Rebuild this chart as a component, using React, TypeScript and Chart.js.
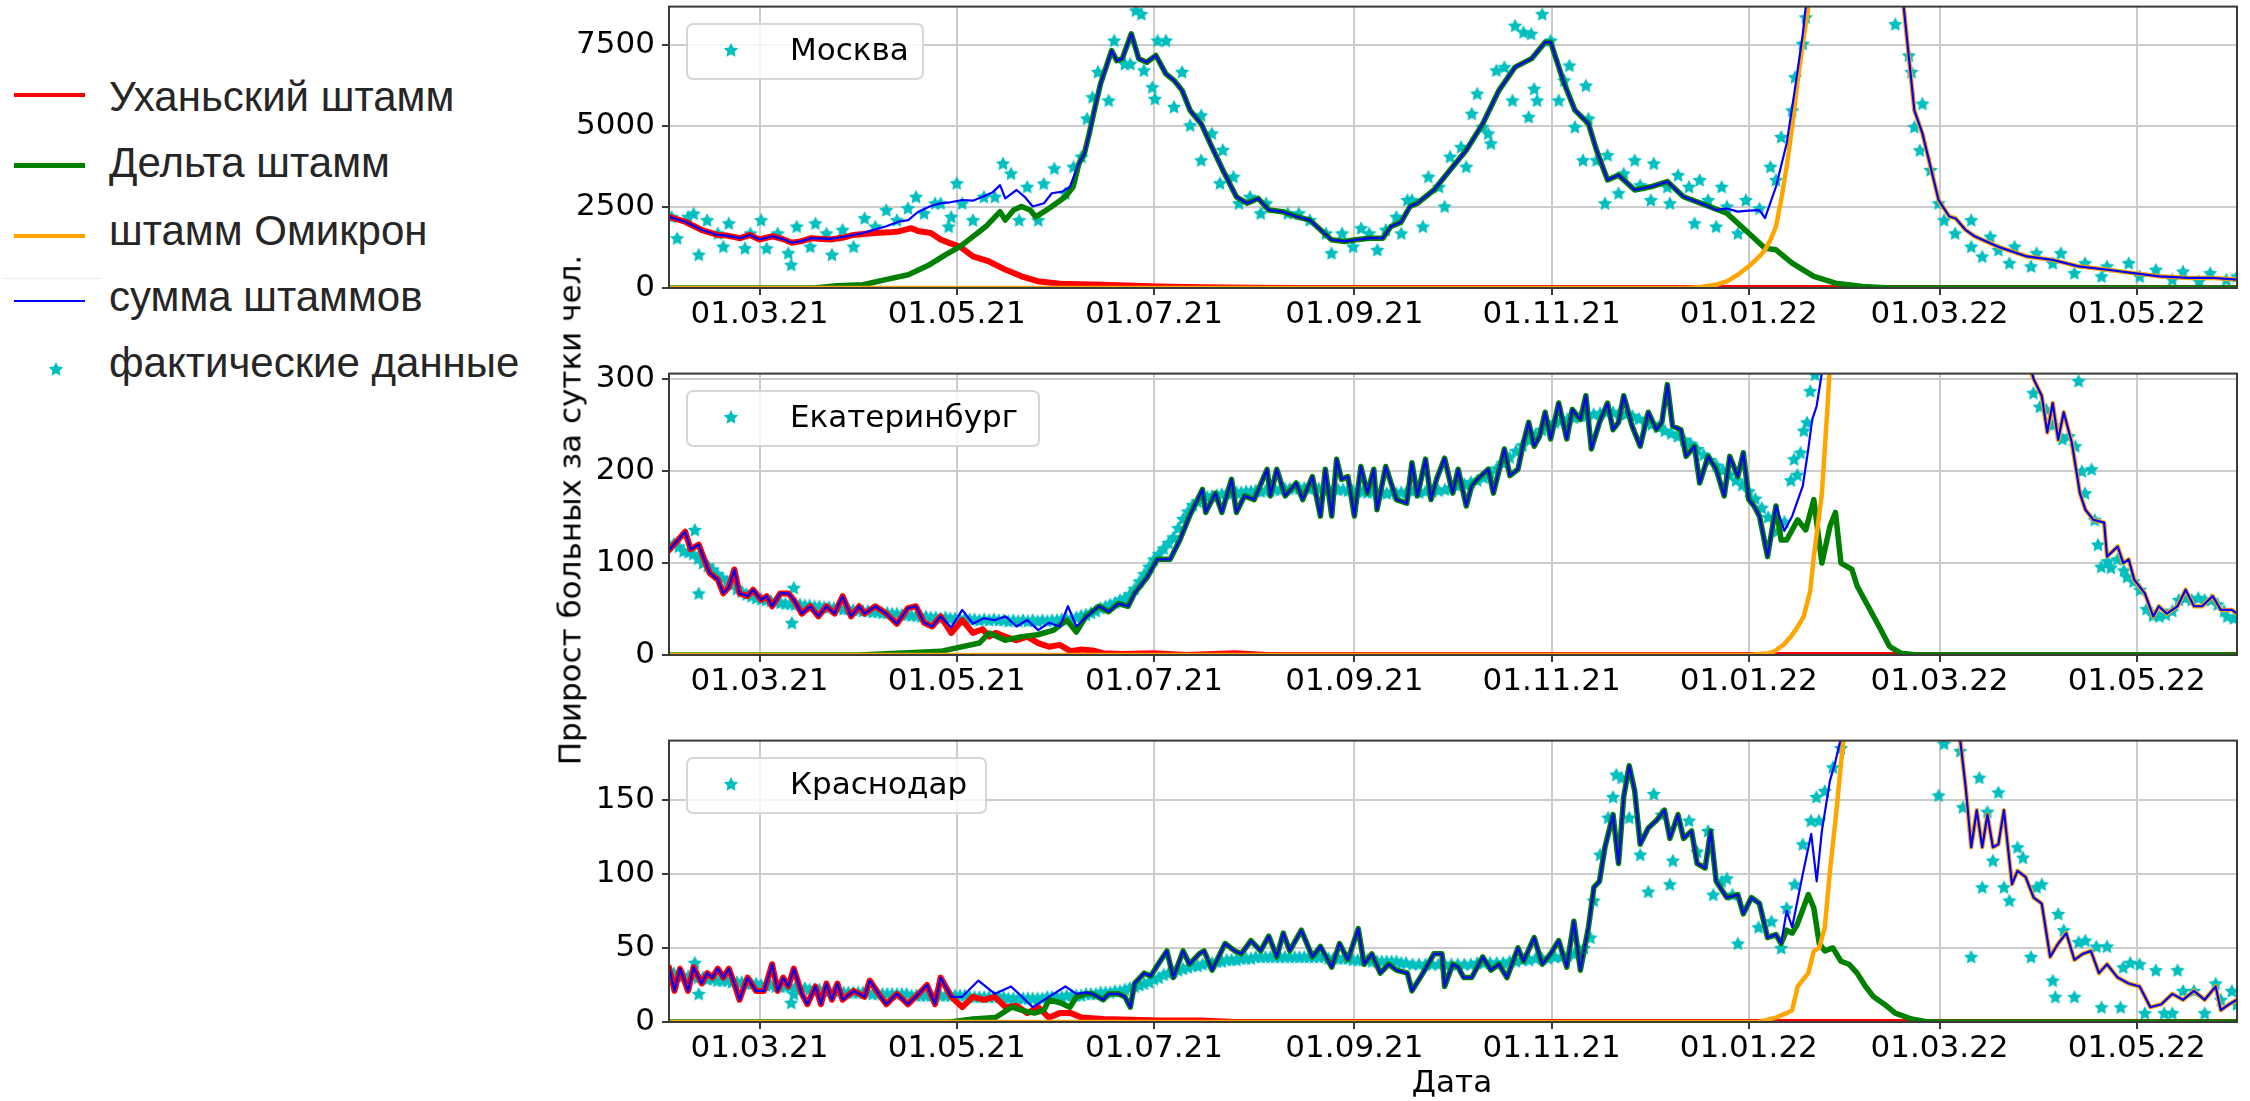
import React, { useEffect, useRef } from "react";
import { Chart, registerables } from "chart.js";

Chart.register(...registerables);

type Pt = [number, number];

// ---------- axes / labels ----------
const X_TICKS = [28, 89, 150, 212, 273, 334, 393, 454];
const X_TICK_LABELS = ["01.03.21", "01.05.21", "01.07.21", "01.09.21", "01.11.21", "01.01.22", "01.03.22", "01.05.22"];
const X_MIN = 0;
const X_MAX = 485;

const MSK_Y_TICKS = [0, 2500, 5000, 7500];
const EKB_Y_TICKS = [0, 100, 200, 300];
const KRD_Y_TICKS = [0, 50, 100, 150];
const MSK_Y_MAX = 8700;
const EKB_Y_MAX = 306;
const KRD_Y_MAX = 190;

const SERIES_LABELS = ["Уханьский штамм", "Дельта штамм", "штамм Омикрон", "сумма штаммов", "фактические данные"];
const CITY_NAMES = ["Москва", "Екатеринбург", "Краснодар"];
const Y_AXIS_TITLE = "Прирост больных за сутки чел.";
const X_AXIS_TITLE = "Дата";

// ---------- Moscow ----------
const MSK_WUHAN: Pt[] = [[0,2200],[5,2050],[10,1800],[15,1640],[18,1620],[22,1540],[25,1640],[28,1500],[32,1600],[35,1520],[38,1400],[41,1450],[44,1540],[50,1500],[54,1560],[57,1640],[61,1680],[64,1700],[68,1720],[71,1750],[75,1850],[77,1760],[81,1700],[84,1500],[87,1380],[90,1280],[94,980],[99,820],[104,570],[109,360],[114,210],[121,130],[134,100],[151,50],[165,25],[180,10],[195,0],[485,0]];
const MSK_DELTA: Pt[] = [[0,0],[45,0],[52,70],[60,100],[67,260],[74,410],[80.6,720],[85.6,1030],[90,1280],[94,1590],[98,1900],[102.4,2360],[104,2100],[106.6,2410],[109,2520],[111.7,2410],[113.4,2200],[116,2360],[118.4,2520],[122.6,2820],[125,3130],[126.8,3850],[128.5,4160],[130,4780],[131.8,5600],[133.5,6320],[136.9,7340],[138.5,7030],[140.2,7090],[143,7860],[145.3,7090],[147.8,6980],[150.6,7190],[153.7,6620],[156.2,6420],[158.7,6110],[161.2,5490],[164.6,5080],[167.9,4360],[171.3,3650],[175.5,2820],[178.8,2620],[182.2,2770],[185.6,2410],[189.8,2360],[194,2210],[198.2,2100],[201.5,1800],[204.9,1490],[209,1440],[212.4,1490],[216.6,1540],[220.8,1540],[223.3,1900],[226.4,2030],[229.2,2520],[231.5,2620],[236.6,3030],[241.6,3650],[246.6,4260],[251.7,5080],[256.7,6110],[261.7,6830],[266.8,7090],[271,7600],[272.7,7600],[276.9,6320],[280.2,5500],[284.4,5080],[286.9,4260],[290.3,3340],[293.7,3490],[298.7,3030],[303.7,3130],[308.8,3290],[313.8,2820],[320.5,2570],[327.2,2310],[334,1690],[339,1230],[342.4,1180],[347.4,770],[354.1,360],[360.8,150],[369.2,50],[377.6,0],[485,0]];
const MSK_OMICRON: Pt[] = [[0,0],[315,0],[319,30],[323.9,100],[327.2,205],[330.6,410],[334,670],[337.3,975],[339,1180],[340.7,1490],[342.4,1900],[344,2720],[345.7,3750],[347.4,4980],[349,6320],[350.7,7550],[352.4,8700],[356,13000],[360,17000],[366,20000],[372,17500],[378,13000],[381,9800],[382,8600],[385.2,5490],[387.7,4780],[390.2,3750],[392.7,2720],[396,2210],[398,2150],[401,1800],[404,1590],[411,1280],[420,975],[428,870],[436,670],[445,565],[453,460],[461,360],[470,310],[478,310],[485,260]];
const MSK_SUM: Pt[] = [[0,2200],[5,2050],[10,1800],[15,1640],[18,1620],[22,1540],[25,1640],[28,1500],[32,1600],[35,1520],[38,1400],[41,1450],[44,1540],[50,1520],[55,1600],[60,1700],[64,1820],[67,1900],[71,2050],[74,2100],[77,2350],[80.6,2520],[84,2620],[87,2650],[90.7,2720],[94,2700],[97,2820],[100,2950],[102.4,3180],[104,2770],[107.5,3030],[110,2820],[112.5,2520],[116,2620],[118.4,2930],[121.7,2980],[124,3130],[126.8,3850],[128.5,4160],[130,4780],[131.8,5600],[133.5,6320],[136.9,7340],[138.5,7030],[140.2,7090],[143,7860],[145.3,7090],[147.8,6980],[150.6,7190],[153.7,6620],[156.2,6420],[158.7,6110],[161.2,5490],[164.6,5080],[167.9,4360],[171.3,3650],[175.5,2820],[178.8,2620],[182.2,2770],[185.6,2410],[189.8,2360],[194,2210],[198.2,2100],[201.5,1800],[204.9,1490],[209,1440],[212.4,1490],[216.6,1540],[220.8,1540],[223.3,1900],[226.4,2030],[229.2,2520],[231.5,2620],[236.6,3030],[241.6,3650],[246.6,4260],[251.7,5080],[256.7,6110],[261.7,6830],[266.8,7090],[271,7600],[272.7,7600],[276.9,6320],[280.2,5500],[284.4,5080],[286.9,4260],[290.3,3340],[293.7,3490],[298.7,3030],[303.7,3130],[308.8,3290],[313.8,2820],[320.5,2570],[323.9,2410],[327.2,2460],[330.6,2360],[334,2390],[337.3,2410],[339,2160],[342.4,3130],[345.7,4470],[348.2,6110],[350.7,7850],[353,10000],[360,17500],[368,21500],[376,15500],[381,10000],[382,8600],[385.2,5490],[387.7,4780],[390.2,3750],[392.7,2720],[396,2210],[398,2150],[401,1800],[404,1590],[411,1280],[420,975],[428,870],[436,670],[445,565],[453,460],[461,360],[470,310],[478,310],[485,260]];
const MSK_ACTUAL: Pt[] = [[0.8,2200],[2.5,1540],[5.9,2200],[7.6,2300],[9.2,1030],[11.8,2100],[15.1,1690],[16.8,1280],[18.5,2000],[23.5,1230],[25.2,1690],[28.5,2100],[30.2,1230],[33.6,1690],[36.9,1080],[37.8,720],[39.5,1900],[43.7,1280],[45.3,2000],[48.7,1690],[50.4,1030],[53.7,1800],[57.1,1280],[60.5,2160],[63.8,1900],[67.2,2410],[70.5,2100],[73.9,2470],[76.4,2820],[78.9,2310],[82.3,2620],[84,2620],[86.5,1900],[87.3,2200],[89,3240],[90.7,2620],[94,2100],[97.4,2820],[100.8,2820],[103.3,3850],[105.8,3540],[108.3,2100],[110.8,3130],[114.2,2100],[115.9,3230],[119.2,3700],[122.6,2930],[125.1,3750],[127.6,4060],[129.3,5240],[131,5900],[132.7,6680],[136,5800],[137.7,7650],[141,6930],[142.7,6930],[144.4,8580],[146.1,8470],[146.9,6730],[149.5,6210],[150.3,5850],[151.1,7650],[153.7,7650],[156.2,5600],[158.7,6680],[161.2,5030],[164.6,3950],[164.6,5340],[167.9,4780],[170.4,3240],[171.3,4270],[174.6,3440],[176.3,2620],[179.7,2820],[183,2310],[184.7,2620],[191.4,2310],[194.8,2310],[198.2,2100],[203.2,1690],[204.9,1080],[208.2,1690],[211.6,1280],[214.1,1850],[216.6,1690],[219.1,1180],[221.7,1800],[225,2200],[226.5,1690],[228.4,2720],[229.8,2720],[233.2,1900],[234.9,3440],[238.2,3130],[239.9,2520],[241.6,4060],[245,4360],[246.6,3750],[248.3,5390],[250,6010],[251.7,4980],[253.4,4780],[254.2,4470],[255.9,6730],[258.4,6830],[260.9,5800],[261.7,8110],[264.3,7910],[265.9,5290],[266.7,7860],[267.6,6160],[268.5,5800],[270.1,8470],[272.7,7650],[275.2,5800],[276.9,6420],[278.5,6880],[280.2,4980],[282.7,3950],[283.6,6260],[284.4,5240],[286.9,3950],[289.5,2620],[290.3,4110],[293.7,2930],[295.3,3540],[298.7,3950],[300.4,3180],[303.7,2720],[304.6,3850],[308.8,3130],[309.6,2620],[312.1,3490],[315.5,3130],[317.2,2000],[318.8,3340],[321.4,2720],[323.9,1900],[325.6,3130],[327.2,2520],[330.6,1690],[333.1,2720],[337.3,2460],[340.7,3750],[342.4,3340],[344,4670],[347.4,5490],[348.3,6520],[350.7,7550],[351.6,8370],[379.3,8160],[383.5,7190],[384.3,6680],[385.2,4980],[386.9,4260],[387.7,5700],[390.2,3650],[392.7,2620],[394.4,2100],[397.8,1690],[402.8,2100],[402.8,1280],[406.2,975],[408.7,1590],[411.2,1180],[414.6,770],[416.2,1280],[421.3,670],[423,1080],[428,770],[430.5,1080],[434.7,460],[438,770],[443.1,360],[444.8,670],[451.5,770],[454.9,360],[459.9,565],[465,260],[468.3,510],[473.3,205],[476.7,460],[481.7,260],[485,360]];

// ---------- Ekaterinburg ----------
const EKB_WUHAN: Pt[] = [[0,114],[2.5,124],[5,134],[6.7,115],[9.2,120],[10.9,104],[12.6,89],[15.1,82],[16.8,67],[18.5,74],[20.2,93],[21.8,67],[24.3,64],[26,71],[28.5,60],[30.2,64],[31.9,53],[34.4,67],[36.9,67],[38.6,60],[41.1,45],[43.7,53],[46.2,42],[48.7,53],[51.2,45],[53.7,64],[56.3,42],[58.8,53],[60.5,45],[63.8,53],[67.2,45],[70.5,34],[73.9,51],[76.4,53],[78.9,35],[81.4,31],[84,42],[87.3,24],[90.7,38],[94,24],[97,28],[99,20],[101,24],[104,20],[107.5,16],[110.8,20],[114.2,13],[117.5,9],[120.9,11],[124.3,4],[127.6,6],[131,5],[134.3,2],[140,1],[150,2],[160,0],[175,2],[185,0],[485,0]];
const EKB_DELTA: Pt[] = [[0,0],[59,0],[84,4],[96,13],[99,24],[104,16],[109,20],[114,22],[119,27],[123,38],[126,25],[129,42],[133,53],[136,47],[139,56],[142,53],[144,67],[148,85],[151,104],[155,104],[158,125],[161,151],[165,180],[166,155],[169,176],[171,155],[174,191],[175.5,155],[178,173],[181,169],[185,202],[186,173],[188,202],[190.6,173],[194,187],[196,169],[199,194],[201.5,151],[203,202],[205,151],[206.5,213],[208,191],[210,194],[212,151],[214,205],[216,176],[218,202],[219,158],[221.7,205],[225,169],[228.2,165],[229.8,209],[231.5,173],[234,213],[235.7,169],[237.4,191],[239.9,214],[242.4,176],[244.1,202],[246.6,162],[248.3,184],[250,191],[253.4,202],[255,176],[258.4,224],[260.1,195],[262.6,202],[264.3,231],[265.9,253],[267.6,227],[269.3,238],[271,264],[272.7,235],[275.2,274],[277.7,235],[279.4,267],[281.9,256],[283.6,282],[285.3,224],[287.8,253],[290.3,274],[292,245],[293.7,253],[295.3,282],[297.9,249],[300.4,227],[302.9,264],[305.4,245],[307.1,253],[308.8,294],[310.4,249],[313,245],[314.6,216],[317.2,227],[318.8,187],[321.4,216],[323.9,202],[326.4,173],[328.1,216],[330.6,194],[332.3,220],[334,169],[335.6,162],[337.3,151],[339.8,107],[342.4,162],[344,125],[345.7,125],[349.1,147],[351.6,136],[354.1,169],[356.6,100],[359.1,140],[360.8,155],[362.5,100],[365.9,93],[367.5,75],[370.9,53],[374.3,31],[377.6,9],[381,2],[386,0],[485,0]];
const EKB_OMICRON: Pt[] = [[0,0],[334,0],[340,2],[342,4],[345,12],[347,20],[349,30],[351,42],[353,70],[354,104],[356.6,176],[358.3,267],[359,310],[362,450],[370,620],[385,720],[400,620],[415,420],[420,320],[422.1,300],[424.6,282],[426.3,242],[428,274],[429.7,234],[431.4,264],[433.9,231],[435.6,194],[436.4,176],[438.1,158],[440.6,147],[443.9,144],[444.8,107],[448.1,118],[449.8,100],[451.5,104],[453.2,82],[456.5,67],[459.1,42],[460.8,53],[463.3,45],[466.6,53],[469.1,71],[471.7,53],[474.2,53],[477.5,64],[480,49],[483.4,49],[485,45]];
const EKB_SUM: Pt[] = [[0,114],[2.5,124],[5,134],[6.7,115],[9.2,120],[10.9,104],[12.6,89],[15.1,82],[16.8,67],[18.5,74],[20.2,93],[21.8,67],[24.3,64],[26,71],[28.5,60],[30.2,64],[31.9,53],[34.4,67],[36.9,67],[38.6,60],[41.1,45],[43.7,53],[46.2,42],[48.7,53],[51.2,45],[53.7,64],[56.3,42],[58.8,53],[60.5,45],[63.8,53],[67.2,45],[70.5,34],[73.9,51],[76.4,53],[78.9,35],[81.4,31],[84,42],[87.3,30],[90.7,49],[94,34],[97.4,40],[100.8,38],[104.1,42],[107.5,31],[110.8,38],[114.2,27],[117.5,35],[120.9,31],[123.4,53],[126,31],[129.3,42],[133,53],[136,47],[139,56],[142,53],[144,67],[148,85],[151,104],[155,104],[158,125],[161,151],[165,180],[166,155],[169,176],[171,155],[174,191],[175.5,155],[178,173],[181,169],[185,202],[186,173],[188,202],[190.6,173],[194,187],[196,169],[199,194],[201.5,151],[203,202],[205,151],[206.5,213],[208,191],[210,194],[212,151],[214,205],[216,176],[218,202],[219,158],[221.7,205],[225,169],[228.2,165],[229.8,209],[231.5,173],[234,213],[235.7,169],[237.4,191],[239.9,214],[242.4,176],[244.1,202],[246.6,162],[248.3,184],[250,191],[253.4,202],[255,176],[258.4,224],[260.1,195],[262.6,202],[264.3,231],[265.9,253],[267.6,227],[269.3,238],[271,264],[272.7,235],[275.2,274],[277.7,235],[279.4,267],[281.9,256],[283.6,282],[285.3,224],[287.8,253],[290.3,274],[292,245],[293.7,253],[295.3,282],[297.9,249],[300.4,227],[302.9,264],[305.4,245],[307.1,253],[308.8,294],[310.4,249],[313,245],[314.6,216],[317.2,227],[318.8,187],[321.4,216],[323.9,202],[326.4,173],[328.1,216],[330.6,194],[332.3,220],[334,169],[335.6,162],[337.3,151],[339.8,107],[342.4,162],[345,135],[347.4,151],[350.7,184],[352.4,224],[353.6,256],[355,271],[356.6,307],[360,420],[370,720],[385,820],[400,660],[415,430],[420,330],[422.1,300],[424.6,282],[426.3,242],[428,274],[429.7,234],[431.4,264],[433.9,231],[435.6,194],[436.4,176],[438.1,158],[440.6,147],[443.9,144],[444.8,107],[448.1,118],[449.8,100],[451.5,104],[453.2,82],[456.5,67],[459.1,42],[460.8,53],[463.3,45],[466.6,53],[469.1,71],[471.7,53],[474.2,53],[477.5,64],[480,49],[483.4,49],[485,45]];
const EKB_ACTUAL: Pt[] = [[0,120],[1.5,121],[3,118],[4.5,113],[6,112],[7.5,110],[8,136],[9,105],[9.2,67],[10.5,100],[12,97],[13.5,93],[15,88],[16.5,84],[18,80],[19.5,76],[21,72],[22.5,69],[24,66],[25.5,64],[27,62],[28.5,61],[30,60],[31.5,59],[33,58],[34.5,57],[36,56],[37.5,56],[38,35],[38.6,73],[39,55],[40.5,55],[42,54],[43.5,54],[45,53],[46.5,53],[48,52],[49.5,52],[51,51],[52.5,51],[54,50],[55.5,50],[57,49],[58.5,49],[60,48],[61.5,48],[63,47],[64.5,47],[66,46],[67.5,46],[69,45],[70.5,45],[72,44],[73.5,44],[75,43],[76.5,43],[78,42],[79.5,42],[81,41],[82.5,41],[84,40],[85.5,41],[87,40],[88.5,40],[90,39],[91.5,40],[93,39],[94.5,39],[96,38],[97.5,39],[99,38],[100.5,39],[102,38],[103.5,38],[105,37],[106.5,38],[108,37],[109.5,38],[111,37],[112.5,38],[114,37],[115.5,38],[117,37],[118.5,38],[120,38],[121.5,39],[123,39],[124.5,40],[126,41],[127.5,43],[129,44],[130.5,46],[132,48],[133.5,51],[135,53],[136.5,55],[138,57],[139.5,60],[141,62],[142.5,66],[144,72],[145.5,80],[147,88],[148.5,96],[150,104],[151.5,110],[153,116],[154.5,122],[156,128],[157.5,138],[159,148],[160.5,156],[162,163],[163.5,167],[165,170],[166.5,172],[168,173],[169.5,174],[171,175],[172.5,176],[174,176],[175.5,177],[177,177],[178.5,178],[180,178],[181.5,179],[183,178],[184.5,179],[186,179],[187.5,180],[189,180],[190.5,181],[192,181],[193.5,182],[195,181],[196.5,182],[198,181],[199.5,182],[201,181],[202.5,181],[204,180],[205.5,181],[207,180],[208.5,180],[210,179],[211.5,179],[213,178],[214.5,178],[216,177],[217.5,177],[219,176],[220.5,177],[222,176],[223.5,177],[225,176],[226.5,177],[228,177],[230,178],[232,177],[234,178],[236,178],[238,179],[240,180],[242,182],[244,184],[246,186],[248,188],[250,190],[252,193],[254,198],[256,203],[258,209],[260,215],[262,222],[264,228],[266,234],[268,240],[270,245],[272,250],[274,253],[276,255],[278,257],[280,258],[282,260],[284,261],[286,262],[288,263],[290,264],[292,264],[294,263],[296,262],[298,260],[300,257],[302,254],[304,251],[306,248],[308,244],[310,241],[312,238],[314,234],[316,230],[318,224],[320,218],[322,212],[324,206],[326,201],[328,196],[330,190],[332,185],[334,178],[336,170],[338,160],[340,150],[343,135],[345,145],[347,190],[348,213],[349,196],[350,220],[351,244],[352,253],[353,287],[354.5,305],[422,285],[424,270],[426,267],[428,250],[431,235],[433,238],[435,227],[436,298],[437,200],[438,176],[440,202],[441,147],[442,120],[443,96],[445,102],[446,95],[448,104],[450,92],[451,85],[453,80],[455,71],[457,50],[459,43],[461,42],[463,44],[465,48],[467,60],[469,62],[471,60],[473,62],[475,60],[477,60],[479,55],[481,48],[482,42],[484,40]];

// ---------- Krasnodar ----------
const KRD_WUHAN: Pt[] = [[0,37],[1.7,21],[3.4,36],[5.9,21],[7.6,37],[10.1,26],[11.8,33],[13.4,30],[15.1,36],[16.8,30],[18.5,36],[20.2,26],[21.8,15],[24.3,30],[26.9,21],[29.4,21],[31.9,39],[33.6,21],[35.3,30],[36.9,24],[38.6,36],[41.1,19],[42.8,12],[45.3,24],[47,12],[48.7,26],[50.4,15],[52.1,26],[53.7,15],[57.1,21],[60.5,17],[62.1,28],[65.5,17],[67.2,12],[70.5,19],[73.9,12],[77.2,19],[79.8,25],[82.3,12],[84,30],[87.3,17],[90.7,10],[94,17],[97.4,15],[100.8,17],[104.1,10],[107.5,11],[110.8,6],[114.2,10],[117.5,3],[120.9,6],[124.3,6],[127.6,3],[134.3,2],[151,1],[164.6,1],[175,0],[485,0]];
const KRD_DELTA: Pt[] = [[0,0],[87,0],[94,2],[101,3],[106,10],[109,8],[113,6],[116,8],[117.5,15],[121,13],[124,10],[126,17],[129,19],[131,19],[134.3,15],[136,19],[139,19],[141,17],[142.7,10],[144,26],[147,33],[149,31],[151,38],[154,48],[156,30],[159,48],[161,39],[164,46],[165.5,48],[168,35],[170,44],[172,53],[175,48],[177,46],[180,55],[183,48],[185.5,58],[188,44],[190,60],[192,48],[195.6,62],[199,44],[201.5,51],[205,37],[207.4,53],[210,42],[213.2,63],[215,39],[217.4,46],[220,33],[222.6,39],[225,35],[228.4,33],[229.8,21],[233.2,33],[236.6,46],[239.1,46],[239.9,24],[242.4,39],[244.1,37],[245.8,30],[248.3,30],[251.7,44],[254.2,35],[256.7,39],[259.2,30],[262.6,50],[264.3,41],[267.6,57],[270.1,39],[272.7,46],[275.2,55],[277.7,37],[279.9,68],[281.9,35],[284.4,64],[286.1,91],[287.8,95],[289.5,118],[292,140],[293.7,107],[295.3,152],[297,173],[298.7,156],[300.4,120],[302.9,131],[305.4,136],[307.9,143],[309.6,124],[312.1,140],[313.8,124],[316.3,129],[318,107],[320.5,104],[322.2,129],[323.9,95],[327.2,84],[330.6,86],[332.3,73],[334.8,84],[337.3,80],[339.8,57],[342.4,59],[344,53],[345.7,62],[347.4,60],[349,66],[352.4,86],[354.1,77],[355.8,53],[357.5,48],[360,50],[362.5,41],[365,39],[367.5,33],[370.1,24],[372.6,17],[375.9,12],[379.3,6],[384.3,2],[389.4,0],[485,0]];
const KRD_OMICRON: Pt[] = [[0,0],[337,0],[342.4,3],[345.7,6],[347.4,8],[349.1,24],[352.4,33],[354.1,48],[355.8,50],[357.5,64],[359.1,102],[360.8,136],[362.8,181],[364,205],[370,290],[380,320],[390,280],[397,215],[399.4,190],[401.1,158],[402.8,118],[404.5,143],[406.2,118],[407.8,140],[409.5,118],[411.2,120],[412.9,143],[415.4,93],[417.1,102],[419.6,98],[422.1,84],[424.6,80],[427.2,44],[429.7,53],[432.2,60],[434.7,42],[437.3,46],[439.8,48],[442.3,33],[444.8,39],[448.1,30],[451.5,26],[454.9,24],[458.2,10],[461.6,12],[465,19],[468.3,15],[471.7,21],[475,15],[478.4,24],[480,8],[482.6,12],[485,15]];
const KRD_SUM: Pt[] = [[0,37],[1.7,21],[3.4,36],[5.9,21],[7.6,37],[10.1,26],[11.8,33],[13.4,30],[15.1,36],[16.8,30],[18.5,36],[20.2,26],[21.8,15],[24.3,30],[26.9,21],[29.4,21],[31.9,39],[33.6,21],[35.3,30],[36.9,24],[38.6,36],[41.1,19],[42.8,12],[45.3,24],[47,12],[48.7,26],[50.4,15],[52.1,26],[53.7,15],[57.1,21],[60.5,17],[62.1,28],[65.5,17],[67.2,12],[70.5,19],[73.9,12],[77.2,19],[79.8,25],[82.3,12],[84,30],[87.3,17],[90.7,17],[95.7,28],[100.8,19],[105.8,24],[109.2,17],[112.5,10],[117.5,17],[122.6,24],[126,19],[129,20],[131,19],[134.3,15],[136,19],[139,19],[141,17],[142.7,10],[144,26],[147,33],[149,31],[151,38],[154,48],[156,30],[159,48],[161,39],[164,46],[165.5,48],[168,35],[170,44],[172,53],[175,48],[177,46],[180,55],[183,48],[185.5,58],[188,44],[190,60],[192,48],[195.6,62],[199,44],[201.5,51],[205,37],[207.4,53],[210,42],[213.2,63],[215,39],[217.4,46],[220,33],[222.6,39],[225,35],[228.4,33],[229.8,21],[233.2,33],[236.6,46],[239.1,46],[239.9,24],[242.4,39],[244.1,37],[245.8,30],[248.3,30],[251.7,44],[254.2,35],[256.7,39],[259.2,30],[262.6,50],[264.3,41],[267.6,57],[270.1,39],[272.7,46],[275.2,55],[277.7,37],[279.9,68],[281.9,35],[284.4,64],[286.1,91],[287.8,95],[289.5,118],[292,140],[293.7,107],[295.3,152],[297,173],[298.7,156],[300.4,120],[302.9,131],[305.4,136],[307.9,143],[309.6,124],[312.1,140],[313.8,124],[316.3,129],[318,107],[320.5,104],[322.2,129],[323.9,95],[327.2,84],[330.6,86],[332.3,73],[334.8,84],[337.3,80],[339.8,57],[342.4,59],[344,53],[345.7,75],[347.4,64],[350.7,100],[353.3,127],[355,95],[356.6,129],[359.1,163],[360.8,176],[362.5,192],[366,240],[375,330],[390,290],[397,215],[399.4,190],[401.1,158],[402.8,118],[404.5,143],[406.2,118],[407.8,140],[409.5,118],[411.2,120],[412.9,143],[415.4,93],[417.1,102],[419.6,98],[422.1,84],[424.6,80],[427.2,44],[429.7,53],[432.2,60],[434.7,42],[437.3,46],[439.8,48],[442.3,33],[444.8,39],[448.1,30],[451.5,26],[454.9,24],[458.2,10],[461.6,12],[465,19],[468.3,15],[471.7,21],[475,15],[478.4,24],[480,8],[482.6,12],[485,15]];
const KRD_ACTUAL: Pt[] = [[0,33],[1.5,33],[3,32],[4.5,31],[6,31],[7.5,31],[8,40],[9,30],[9.2,19],[10.5,30],[12,29],[13.5,29],[15,28],[16.5,28],[18,28],[19.5,27],[21,27],[22.5,27],[24,26],[25.5,26],[27,26],[28.5,25],[30,25],[31.5,25],[33,24],[34.5,24],[36,24],[37.5,24],[37.8,13],[38.6,19],[39,23],[40.5,23],[42,23],[43.5,22],[45,22],[46.5,22],[48,21],[49.5,21],[51,21],[52.5,21],[54,20],[55.5,20],[57,20],[58.5,20],[60,20],[61.5,20],[63,19],[64.5,19],[66,19],[67.5,19],[69,19],[70.5,19],[72,19],[73.5,19],[75,18],[76.5,18],[78,18],[79.5,18],[81,18],[82.5,18],[84,18],[85.5,18],[87,18],[88.5,18],[90,18],[91.5,18],[93,17],[94.5,17],[96,17],[97.5,17],[99,17],[100.5,17],[102,17],[103.5,17],[105,16],[106.5,16],[108,16],[109.5,16],[111,16],[112.5,16],[114,16],[115.5,16],[117,17],[118.5,17],[120,17],[121.5,17],[123,18],[124.5,18],[126,18],[127.5,18],[129,19],[130.5,19],[132,19],[133.5,20],[135,20],[136.5,20],[138,21],[139.5,21],[141,22],[142.5,23],[144,24],[145.5,25],[147,26],[148.5,27],[150,29],[151.5,30],[153,32],[154.5,33],[156,34],[157.5,35],[159,36],[160.5,37],[162,38],[163.5,38],[165,39],[166.5,40],[168,40],[169.5,41],[171,41],[172.5,42],[174,42],[175.5,42],[177,43],[178.5,43],[180,43],[181.5,44],[183,44],[184.5,44],[186,44],[187.5,44],[189,44],[190.5,44],[192,44],[193.5,44],[195,44],[196.5,44],[198,44],[199.5,44],[201,44],[202.5,44],[204,43],[205.5,43],[207,43],[208.5,43],[210,43],[211.5,42],[213,42],[214.5,42],[216,42],[217.5,41],[219,41],[220.5,41],[222,41],[223.5,41],[225,41],[226.5,40],[228,40],[230,39],[232,39],[234,39],[236,39],[238,39],[240,39],[242,39],[244,39],[246,39],[248,39],[250,40],[252,40],[254,40],[256,40],[258,40],[260,41],[262,41],[264,42],[266,42],[268,43],[270,43],[272,43],[274,44],[276,44],[278,45],[280,46],[283,50],[285,57],[286,82],[288,113],[290.5,138],[292,152],[293,167],[294.6,165],[297,138],[300.4,113],[302.9,88],[304.6,154],[307,140],[309.6,93],[310.5,109],[315.5,136],[318,115],[321.4,129],[323,86],[325.6,95],[327.2,97],[328.9,86],[330.6,53],[337,64],[341,68],[344,50],[345.7,77],[348.2,93],[350.7,120],[353.2,136],[354.9,152],[355.7,136],[357.5,156],[360,172],[362.5,185],[392.7,153],[394.4,188],[399.4,183],[400.2,145],[402.8,44],[405.3,165],[406.2,91],[407.8,142],[409.5,109],[411.2,155],[412.9,91],[414.6,82],[417.1,118],[418.8,111],[421.3,44],[423,91],[424.6,93],[428,28],[428.8,17],[429.7,73],[431.4,62],[434.7,17],[436,54],[438.1,55],[441.5,51],[443.1,10],[444.8,51],[449,10],[449.8,37],[452,40],[454.9,39],[456.5,6],[459.9,35],[462.5,6],[465,6],[466.6,35],[468.3,21],[471.7,21],[475,6],[478.4,26],[480,15],[483.4,21],[485,12]];

// ---------- styles ----------
const RED = "#ff0000";
const GREEN = "#008000";
const ORANGE = "#ffa500";
const BLUE = "#0000ff";
const CYAN = "#00bfbf";
const GRID = "#cccccc";
const FRAME = "#3a3a3a";
const TICK_FONT = { family: "'DejaVu Sans', sans-serif", size: 31 };

const CANVAS_LEFT = 560;
const CANVAS_W = 1690;
const Y_AXIS_W = 109;
const PAD_RIGHT = 13;
const PAD_TOP = 25;
const X_AXIS_H = 70;
const STAR_PX = 16;
const STAR_INNER = 0.5;

function starPoints(cx: number, cy: number, R: number, r: number): [number, number][] {
  const pts: [number, number][] = [];
  for (let i = 0; i < 10; i++) {
    const rad = i % 2 === 0 ? R : r;
    const a = -Math.PI / 2 + (i * Math.PI) / 5;
    pts.push([cx + rad * Math.cos(a), cy + rad * Math.sin(a)]);
  }
  return pts;
}

function makeStarCanvas(size: number): HTMLCanvasElement {
  const c = document.createElement("canvas");
  c.width = size;
  c.height = size;
  const ctx = c.getContext("2d")!;
  const pts = starPoints(size / 2, size / 2 + 0.6, size / 2 - 0.5, (size / 2 - 0.5) * STAR_INNER);
  ctx.beginPath();
  pts.forEach(([x, y], i) => (i === 0 ? ctx.moveTo(x, y) : ctx.lineTo(x, y)));
  ctx.closePath();
  ctx.fillStyle = CYAN;
  ctx.fill();
  return c;
}

function StarIcon({ size, left, top }: { size: number; left: number; top: number }) {
  const pts = starPoints(size / 2, size / 2 + 0.6, size / 2 - 0.5, (size / 2 - 0.5) * STAR_INNER)
    .map(([x, y]) => `${x.toFixed(2)},${y.toFixed(2)}`)
    .join(" ");
  return (
    <svg width={size} height={size} style={{ position: "absolute", left: left - size / 2, top: top - size / 2 }}>
      <polygon points={pts} fill={CYAN} />
    </svg>
  );
}

const framePlugin = {
  id: "frame",
  afterDatasetsDraw(chart: any) {
    const { ctx, chartArea: a } = chart;
    ctx.save();
    ctx.strokeStyle = FRAME;
    ctx.lineWidth = 2;
    ctx.strokeRect(a.left, a.top, a.right - a.left, a.bottom - a.top);
    ctx.restore();
  },
};

type PanelProps = {
  top: number;
  bottom: number;
  wuhan: Pt[];
  delta: Pt[];
  omicron: Pt[];
  sum: Pt[];
  actual: Pt[];
  yTicks: number[];
  yMax: number;
};

function Panel({ top, bottom, wuhan, delta, omicron, sum, actual, yTicks, yMax }: PanelProps) {
  const ref = useRef<HTMLCanvasElement>(null);
  const canvasTop = top - PAD_TOP;
  const canvasH = bottom - top + PAD_TOP + X_AXIS_H;

  useEffect(() => {
    const star = makeStarCanvas(STAR_PX);
    const toXY = (a: Pt[]) => a.map(([x, y]) => ({ x, y }));
    const line = (data: Pt[], color: string, width: number, order: number) => ({
      data: toXY(data),
      borderColor: color,
      backgroundColor: color,
      borderWidth: width,
      pointRadius: 0,
      fill: false,
      tension: 0,
      order,
      borderJoinStyle: "round",
      borderCapStyle: "round",
    });
    const chart = new Chart(ref.current!, {
      type: "line",
      data: {
        datasets: [
          line(sum, BLUE, 2.2, 1),
          line(omicron, ORANGE, 4.5, 2),
          line(delta, GREEN, 5.5, 3),
          line(wuhan, RED, 6, 4),
          {
            data: toXY(actual),
            showLine: false,
            pointStyle: star,
            pointRadius: 7,
            borderColor: CYAN,
            backgroundColor: CYAN,
            order: 5,
          },
        ] as any,
      },
      options: {
        responsive: false,
        animation: false,
        devicePixelRatio: 1,
        events: [],
        layout: { padding: { top: PAD_TOP, right: PAD_RIGHT, left: 0, bottom: 0 } },
        plugins: { legend: { display: false }, tooltip: { enabled: false } },
        scales: {
          x: {
            type: "linear",
            min: X_MIN,
            max: X_MAX,
            afterBuildTicks: (s: any) => {
              s.ticks = X_TICKS.map((v) => ({ value: v }));
            },
            afterFit: (s: any) => {
              s.height = X_AXIS_H;
            },
            ticks: {
              autoSkip: false,
              maxRotation: 0,
              minRotation: 0,
              padding: 1,
              color: "#000",
              font: TICK_FONT,
              callback: (_v: any, i: number) => X_TICK_LABELS[i],
            },
            grid: { color: GRID, lineWidth: 2, drawTicks: true, tickLength: 7, tickColor: FRAME, tickWidth: 2 },
            border: { display: false },
          },
          y: {
            type: "linear",
            min: 0,
            max: yMax,
            afterBuildTicks: (s: any) => {
              s.ticks = yTicks.map((v) => ({ value: v }));
            },
            afterFit: (s: any) => {
              s.width = Y_AXIS_W;
            },
            ticks: {
              padding: 7,
              color: "#000",
              font: TICK_FONT,
              callback: (v: any) => String(v),
            },
            grid: { color: GRID, lineWidth: 2, drawTicks: true, tickLength: 7, tickColor: FRAME, tickWidth: 2 },
            border: { display: false },
          },
        },
      } as any,
      plugins: [framePlugin],
    });
    return () => chart.destroy();
  }, []);

  return (
    <canvas
      ref={ref}
      width={CANVAS_W}
      height={canvasH}
      style={{ position: "absolute", left: CANVAS_LEFT, top: canvasTop, width: CANVAS_W, height: canvasH, display: "block" }}
    />
  );
}

const LEGEND_FONT = "42px 'Liberation Sans', Arial, sans-serif";
const DV_FONT = "31px 'DejaVu Sans', sans-serif";

export default function App() {
  const panels = [
    { top: 6, bottom: 288, wuhan: MSK_WUHAN, delta: MSK_DELTA, omicron: MSK_OMICRON, sum: MSK_SUM, actual: MSK_ACTUAL, yTicks: MSK_Y_TICKS, yMax: MSK_Y_MAX, boxW: 238 },
    { top: 373, bottom: 655, wuhan: EKB_WUHAN, delta: EKB_DELTA, omicron: EKB_OMICRON, sum: EKB_SUM, actual: EKB_ACTUAL, yTicks: EKB_Y_TICKS, yMax: EKB_Y_MAX, boxW: 354 },
    { top: 740, bottom: 1022, wuhan: KRD_WUHAN, delta: KRD_DELTA, omicron: KRD_OMICRON, sum: KRD_SUM, actual: KRD_ACTUAL, yTicks: KRD_Y_TICKS, yMax: KRD_Y_MAX, boxW: 301 },
  ];
  const legendRows = [
    { color: RED, width: 4, lineY: 95, baseline: 112 },
    { color: GREEN, width: 5, lineY: 165, baseline: 178 },
    { color: ORANGE, width: 4, lineY: 236, baseline: 246 },
    { color: BLUE, width: 2, lineY: 301, baseline: 312 },
    { color: null, width: 0, lineY: 369, baseline: 378 },
  ];
  return (
    <div style={{ position: "absolute", left: 0, top: 0, width: 2250, height: 1101, background: "#fff", overflow: "hidden" }}>
      {panels.map((p, i) => (
        <Panel key={i} {...p} />
      ))}
      {panels.map((p, i) => (
        <React.Fragment key={"lg" + i}>
          <div
            style={{
              position: "absolute",
              left: 686,
              top: p.top + 17,
              width: p.boxW,
              height: 57,
              boxSizing: "border-box",
              border: "2px solid #d6d6d6",
              borderRadius: 7,
              background: "rgba(255,255,255,0.8)",
            }}
          />
          <StarIcon size={16} left={731} top={p.top + 44} />
          <div style={{ position: "absolute", left: 790, top: p.top + 54 - 26, font: DV_FONT, lineHeight: "31px", color: "#000", whiteSpace: "nowrap" }}>
            {CITY_NAMES[i]}
          </div>
        </React.Fragment>
      ))}
      {legendRows.map((r, i) => (
        <React.Fragment key={"row" + i}>
          {r.color ? (
            <div style={{ position: "absolute", left: 14, width: 71, top: r.lineY - r.width / 2, height: r.width, background: r.color }} />
          ) : (
            <StarIcon size={16} left={56} top={r.lineY} />
          )}
          <div style={{ position: "absolute", left: 109, top: r.baseline - 36, font: LEGEND_FONT, lineHeight: "42px", color: "#262626", whiteSpace: "nowrap" }}>
            {SERIES_LABELS[i]}
          </div>
        </React.Fragment>
      ))}
      <div style={{ position: "absolute", left: 4, top: 278, width: 98, height: 1, background: "#ececec" }} />
      <div
        style={{
          position: "absolute",
          left: 570,
          top: 510,
          transform: "translate(-50%, -50%) rotate(-90deg)",
          font: DV_FONT,
          lineHeight: "31px",
          color: "#000",
          whiteSpace: "nowrap",
        }}
      >
        {Y_AXIS_TITLE}
      </div>
      <div style={{ position: "absolute", left: 1452, top: 1066, transform: "translateX(-50%)", font: DV_FONT, lineHeight: "31px", color: "#000", whiteSpace: "nowrap" }}>
        {X_AXIS_TITLE}
      </div>
    </div>
  );
}
